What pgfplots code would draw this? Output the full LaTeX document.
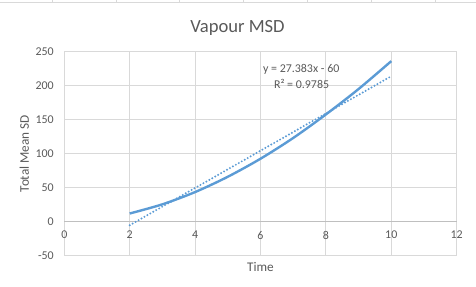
\documentclass[border=0pt]{standalone}
\usepackage{pgfplots}
\pgfplotsset{compat=1.18}
\usepackage{fontspec}
\setmainfont{Carlito}
\definecolor{txt}{HTML}{595959}
\definecolor{grd}{HTML}{D9D9D9}
\definecolor{zer}{HTML}{BFBFBF}
\definecolor{ln}{HTML}{5B9BD5}
\begin{document}
\begin{tikzpicture}[x=1bp,y=1bp]
\path (0,0) rectangle (476,287);
\draw[grd, line width=0.8bp] (0,284.8) -- (476,284.8);
\foreach \xx in {51.7,115.7,179.3,243.7,307.3,371.3,435.3}{\draw[grd, line width=0.8bp] (\xx,284.8) -- (\xx,287);}
\begin{axis}[
  at={(64bp,31.3bp)}, anchor=south west,
  scale only axis, width=393bp, height=204.4bp,
  xmin=0, xmax=12, ymin=-50, ymax=250,
  xtick={0,2,...,12}, ytick={-50,0,...,250},
  /pgf/number format/assume math mode=true,
  grid=major, grid style={grd, line width=0.75bp},
  axis line style={grd, line width=0.75bp},
  major tick length=0,
  tick label style={font=\fontsize{12}{14}\selectfont, text=txt},
  xticklabel style={yshift=28bp},
  yticklabel style={xshift=-7bp},
  label style={font=\fontsize{13.3}{15}\selectfont, text=txt},
  xlabel={Time}, ylabel={Total Mean SD},
  xlabel style={at={(axis description cs:0.5,-0.0553)}, anchor=center},
  ylabel style={at={(axis description cs:-0.1018,0.5)}, anchor=center},
  clip=false,
]
\draw[zer, line width=0.75bp] (axis cs:0,0) -- (axis cs:12,0);
\addplot[ln, line width=2.2bp, dash pattern=on 0bp off 3.4bp, line cap=round] coordinates {(2,-5.234) (10,213.83)};
\addplot[ln, line width=2.4bp, smooth, no marks] coordinates {
(2,12) (3,25.5) (4,43.5) (5,66) (6,92.5) (7,123) (8,157.6) (9,195) (10,236)};
\end{axis}
\node[anchor=base, text=txt, font=\fontsize{18.7}{22}\selectfont] at (237.5,255.3) {Vapour MSD};
\node[anchor=center, text=txt, font=\fontsize{12}{14}\selectfont] at (301.3,217.7) {y = 27.383x - 60};
\node[anchor=center, text=txt, font=\fontsize{12}{14}\selectfont] at (301.7,203) {R² = 0.9785};
\end{tikzpicture}
\end{document}
